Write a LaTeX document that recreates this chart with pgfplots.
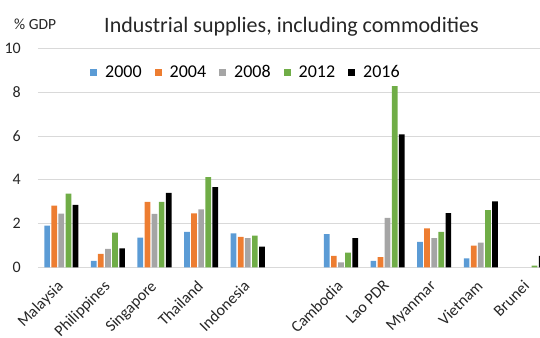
\documentclass[border=0pt]{standalone}
\usepackage{pgfplots}
\pgfplotsset{compat=1.18}
\usepackage{fontspec}
\setmainfont{Carlito}
\definecolor{cBlue}{HTML}{5B9BD5}
\definecolor{cOrange}{HTML}{ED7D31}
\definecolor{cGray}{HTML}{A5A5A5}
\definecolor{cGreen}{HTML}{70AD47}
\definecolor{cGrid}{HTML}{D9D9D9}
\begin{document}
\begin{tikzpicture}
\begin{axis}[
  at={(38bp,70.7bp)}, anchor=south west,
  scale only axis, width=502bp, height=218.6bp,
  ybar=1.4bp, bar width=5.7bp,
  xmin=-0.5, xmax=10.27, ymin=0, ymax=10,
  ytick={0,2,4,6,8,10},
  xtick={0,1,2,3,4,6,7,8,9,10},
  xticklabels={Malaysia,Philippines,Singapore,Thailand,Indonesia,Cambodia,Lao PDR,Myanmar,Vietnam,Brunei},
  axis line style={draw=none},
  major tick length=0pt,
  ymajorgrids, grid style={cGrid, line width=1bp},
  /pgf/number format/assume math mode=true,
  tick label style={font=\fontsize{16bp}{19bp}\selectfont, text=black!85},
  yticklabel style={anchor=east, inner sep=0pt, xshift=-17bp},
  xticklabel style={xshift=-5bp, yshift=-12bp, rotate=45, anchor=north east, inner sep=0pt},
  legend columns=5,
  legend style={at={(axis description cs:0.1036,0.893)}, anchor=west, draw=none, fill=none,
    inner sep=0pt, column sep=8bp, font=\fontsize{18bp}{21bp}\selectfont,
    nodes={inner sep=0pt}, /tikz/every even column/.append style={column sep=13bp}},
  legend image code/.code={\fill[#1] (0bp,-3.5bp) rectangle (7bp,3.5bp);},
]
\addplot[fill=cBlue, draw=none] coordinates {(0,1.91)(1,0.29)(2,1.36)(3,1.62)(4,1.55)(6,1.52)(7,0.29)(8,1.16)(9,0.41)};
\addplot[fill=cOrange, draw=none] coordinates {(0,2.82)(1,0.61)(2,2.99)(3,2.47)(4,1.39)(6,0.52)(7,0.47)(8,1.78)(9,0.99)};
\addplot[fill=cGray, draw=none] coordinates {(0,2.45)(1,0.84)(2,2.44)(3,2.65)(4,1.33)(6,0.23)(7,2.26)(8,1.33)(9,1.13)};
\addplot[fill=cGreen, draw=none] coordinates {(0,3.37)(1,1.59)(2,2.99)(3,4.12)(4,1.45)(6,0.67)(7,8.29)(8,1.62)(9,2.62)(10,0.08)};
\addplot[fill=black, draw=none] coordinates {(0,2.85)(1,0.87)(2,3.40)(3,3.67)(4,0.95)(6,1.33)(7,6.08)(8,2.48)(9,3.02)(10,0.52)};
\legend{2000,2004,2008,2012,2016}
\end{axis}
\node[anchor=base, inner sep=0pt, font=\fontsize{22bp}{26bp}\selectfont, text=black!85] at (291.5bp,305bp) {Industrial supplies, including commodities};
\node[anchor=base west, inner sep=0pt, font=\fontsize{15.5bp}{18bp}\selectfont, text=black!85] at (14bp,308bp) {\% GDP};
\pgfresetboundingbox
\useasboundingbox (0,0) rectangle (540bp,338bp);
\end{tikzpicture}
\end{document}
